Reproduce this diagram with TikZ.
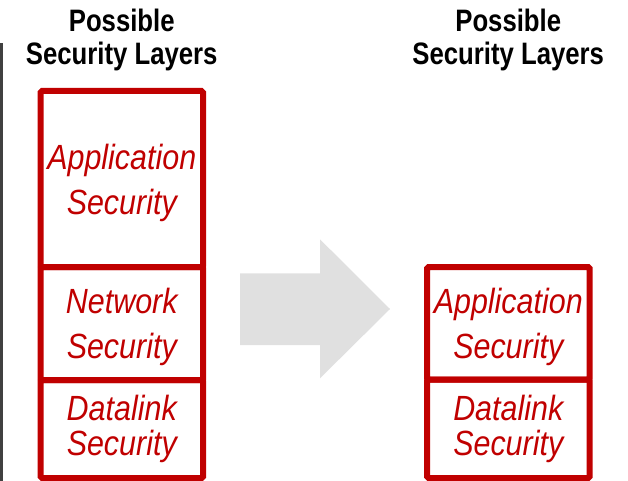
\documentclass[tikz,border=0pt]{standalone}
\usepackage{fontspec}
\setmainfont{Liberation Sans}[BoldFeatures={FakeStretch=0.83},ItalicFeatures={FakeStretch=0.87}]
\usetikzlibrary{positioning}
\definecolor{secred}{RGB}{192,0,0}
\definecolor{arrowgray}{RGB}{224,224,224}
\definecolor{bargray}{RGB}{64,64,64}

\begin{document}
\begin{tikzpicture}[x=1pt,y=-1pt,
    layer/.style={draw=secred, line width=6pt, rounded corners=1.5pt, minimum width=162.5pt,
      text=secred, align=center, inner sep=0pt, outer sep=0pt},
    wide/.style={font=\itshape\fontsize{35}{45}\selectfont, text depth=0pt},
    tight/.style={font=\itshape\fontsize{35}{35}\selectfont},
    heading/.style={font=\bfseries\fontsize{31}{33.5}\selectfont, align=center, inner sep=0pt}]
  \useasboundingbox (0,0) rectangle (628,481);
  % rule along the left edge
  \fill[bargray] (0,42.7) rectangle (3,481);

  % stack before
  \node[heading] (head1) at (121.75,40) {Possible\\Security Layers};
  \node[layer, wide, minimum height=176pt] (app1) at (121.75,179) {Application\\Security};
  \node[layer, wide, minimum height=113pt, below=0pt of app1] (net1) {Network\\Security};
  \node[layer, tight, minimum height=98pt, below=0pt of net1] (link1) {Datalink\\Security};

  % big arrow
  \fill[arrowgray] (240,273.3) -- (320,273.3) -- (320,239.3) -- (390,309)
    -- (320,378.3) -- (320,345) -- (240,345) -- cycle;

  % stack after
  \node[heading] (head2) at (508.25,40) {Possible\\Security Layers};
  \node[layer, wide, minimum height=112.5pt] (app2) at (508.25,323.25) {Application\\Security};
  \node[layer, tight, minimum height=98.5pt, below=0pt of app2] (link2) {Datalink\\Security};
\end{tikzpicture}
\end{document}
